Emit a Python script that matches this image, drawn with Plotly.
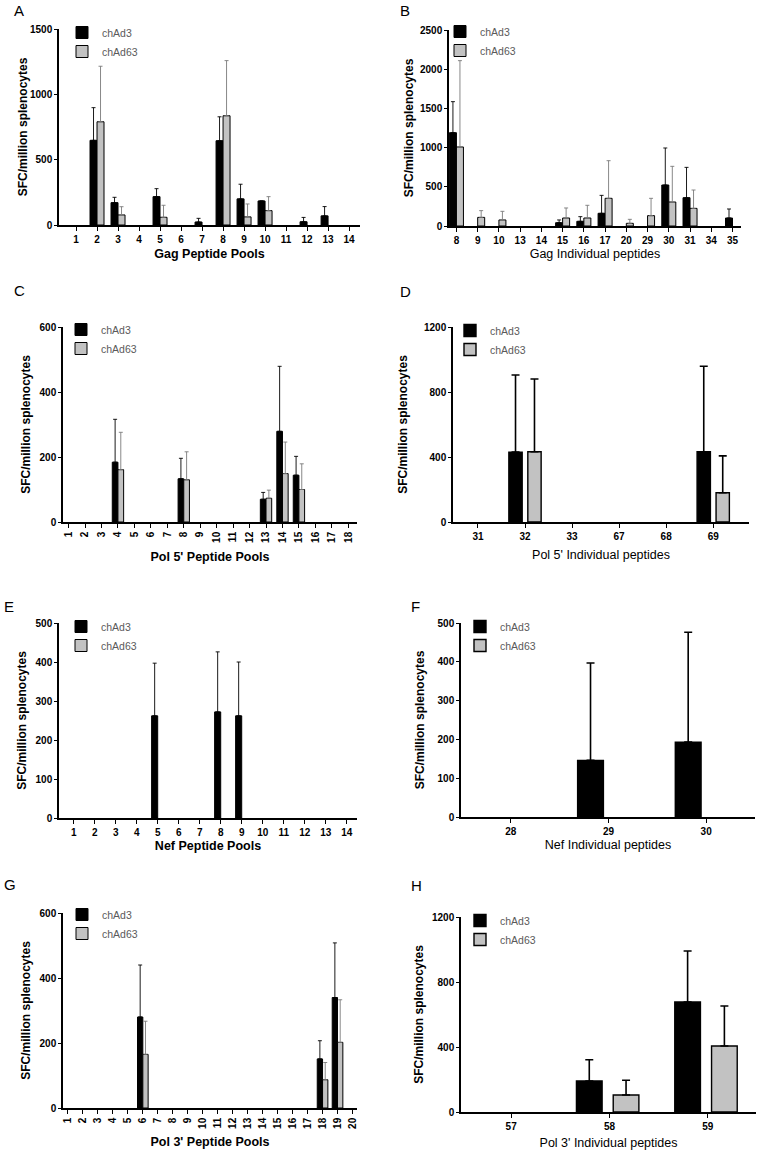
import plotly.graph_objects as go

W, H = 757, 1152
FONT = "Liberation Sans, Arial, sans-serif"

# ---------------- data ----------------
# A: Gag peptide pools
a_cats = [str(i) for i in range(1, 15)]
a_chad3 = [0, 648, 171, 0, 217, 0, 23, 645, 200, 184, 0, 25, 70, 0]
a_chad3_err = [0, 250, 41, 0, 61, 0, 28, 183, 112, 0, 0, 33, 71, 0]
a_chad63 = [0, 790, 77, 0, 59, 0, 0, 836, 62, 110, 0, 0, 0, 0]
a_chad63_err = [0, 425, 63, 0, 92, 0, 0, 422, 99, 107, 0, 0, 0, 0]

# B: Gag individual peptides
b_cats = ["8", "9", "10", "13", "14", "15", "16", "17", "20", "29", "30", "31", "34", "35"]
b_chad3 = [1190, 0, 0, 0, 0, 42, 60, 162, 0, 0, 523, 361, 0, 102]
b_chad3_err = [396, 0, 0, 0, 0, 35, 59, 229, 0, 0, 472, 387, 0, 115]
b_chad63 = [1008, 110, 77, 0, 0, 102, 102, 353, 34, 132, 306, 225, 0, 0]
b_chad63_err = [1101, 86, 110, 0, 0, 128, 162, 480, 51, 221, 455, 234, 0, 0]

# C: Pol 5' peptide pools
c_cats = [str(i) for i in range(1, 19)]
c_chad3 = [0, 0, 0, 184, 0, 0, 0, 133, 0, 0, 0, 0, 70, 279, 144, 0, 0, 0]
c_chad3_err = [0, 0, 0, 132, 0, 0, 0, 63, 0, 0, 0, 0, 21, 200, 58, 0, 0, 0]
c_chad63 = [0, 0, 0, 161, 0, 0, 0, 130, 0, 0, 0, 0, 73, 149, 100, 0, 0, 0]
c_chad63_err = [0, 0, 0, 115, 0, 0, 0, 86, 0, 0, 0, 0, 25, 97, 79, 0, 0, 0]

# D: Pol 5' individual peptides
d_cats = ["31", "32", "33", "67", "68", "69"]
d_chad3 = [0, 430, 0, 0, 0, 432]
d_chad3_err = [0, 475, 0, 0, 0, 526]
d_chad63 = [0, 432, 0, 0, 0, 180]
d_chad63_err = [0, 448, 0, 0, 0, 227]

# E: Nef peptide pools
e_cats = [str(i) for i in range(1, 15)]
e_chad3 = [0, 0, 0, 0, 262, 0, 0, 272, 262, 0, 0, 0, 0, 0]
e_chad3_err = [0, 0, 0, 0, 135, 0, 0, 154, 138, 0, 0, 0, 0, 0]
e_chad63 = [0] * 14
e_chad63_err = [0] * 14

# F: Nef individual peptides
f_cats = ["28", "29", "30"]
f_chad3 = [0, 146, 193]
f_chad3_err = [0, 251, 283]
f_chad63 = [0, 0, 0]
f_chad63_err = [0, 0, 0]

# G: Pol 3' peptide pools
g_cats = [str(i) for i in range(1, 21)]
g_chad3 = [0, 0, 0, 0, 0, 280, 0, 0, 0, 0, 0, 0, 0, 0, 0, 0, 0, 151, 340, 0]
g_chad3_err = [0, 0, 0, 0, 0, 160, 0, 0, 0, 0, 0, 0, 0, 0, 0, 0, 0, 56, 168, 0]
g_chad63 = [0, 0, 0, 0, 0, 165, 0, 0, 0, 0, 0, 0, 0, 0, 0, 0, 0, 87, 202, 0]
g_chad63_err = [0, 0, 0, 0, 0, 102, 0, 0, 0, 0, 0, 0, 0, 0, 0, 0, 0, 53, 131, 0]

# H: Pol 3' individual peptides
h_cats = ["57", "58", "59"]
h_chad3 = [0, 191, 677]
h_chad3_err = [0, 131, 314]
h_chad63 = [0, 105, 406]
h_chad63_err = [0, 90, 246]

series_names = ["chAd3", "chAd63"]
y_title = "SFC/million splenocytes"

# ---------------- per-panel geometry / style (page pixels) ----------------
panels = [
    dict(letter="A", cats=a_cats, c3=a_chad3, c3e=a_chad3_err, c63=a_chad63, c63e=a_chad63_err,
         xt="Gag Peptide Pools", x0=59, x1=360, yt=29, yb=225, ymax=1500, dt=500,
         xr=[-0.81, 13.52], ta=0, tb=True, bw=0.333, off3=-0.333, off63=0.0, heavy=False,
         xst=5, yst=0, lxy=(12, 10), legxy=(62, 18)),
    dict(letter="B", cats=b_cats, c3=b_chad3, c3e=b_chad3_err, c63=b_chad63, c63e=b_chad63_err,
         xt="Gag Individual peptides", x0=449, x1=741, yt=30, yb=226, ymax=2500, dt=500,
         xr=[-0.35, 13.4], ta=0, tb=False, bw=0.33, off3=-0.33, off63=0.0, heavy=False,
         xst=4, yst=4, lxy=(398, 10), legxy=(440, 17)),
    dict(letter="C", cats=c_cats, c3=c_chad3, c3e=c_chad3_err, c63=c_chad63, c63e=c_chad63_err,
         xt="Pol 5' Peptide Pools", x0=63, x1=357, yt=327, yb=522, ymax=600, dt=200,
         xr=[-0.34, 17.53], ta=-90, tb=True, bw=0.345, off3=-0.345, off63=0.0, heavy=False,
         xst=10, yst=6, lxy=(12, 290), legxy=(61, 315)),
    dict(letter="D", cats=d_cats, c3=d_chad3, c3e=d_chad3_err, c63=d_chad63, c63e=d_chad63_err,
         xt="Pol 5' Individual peptides", x0=453, x1=749, yt=327, yb=522, ymax=1200, dt=400,
         xr=[-0.53, 5.76], ta=0, tb=False, bw=0.283, off3=-0.343, off63=0.06, heavy=True,
         xst=9, yst=14, lxy=(398, 291), legxy=(450, 316)),
    dict(letter="E", cats=e_cats, c3=e_chad3, c3e=e_chad3_err, c63=e_chad63, c63e=e_chad63_err,
         xt="Nef Peptide Pools", x0=59, x1=357, yt=623, yb=818, ymax=500, dt=100,
         xr=[-0.70, 13.49], ta=0, tb=True, bw=0.29, off3=-0.29, off63=0.0, heavy=False,
         xst=4, yst=6, lxy=(2, 606), legxy=(61, 612)),
    dict(letter="F", cats=f_cats, c3=f_chad3, c3e=f_chad3_err, c63=f_chad63, c63e=f_chad63_err,
         xt="Nef Individual peptides", x0=461, x1=755, yt=623, yb=817, ymax=500, dt=100,
         xr=[-0.51, 2.5], ta=0, tb=False, bw=0.264, off3=-0.316, off63=0.052, heavy=True,
         xst=4, yst=10, lxy=(409, 606), legxy=(460, 612)),
    dict(letter="G", cats=g_cats, c3=g_chad3, c3e=g_chad3_err, c63=g_chad63, c63e=g_chad63_err,
         xt="Pol 3' Peptide Pools", x0=63, x1=357, yt=913, yb=1108, ymax=600, dt=200,
         xr=[-0.33, 19.3], ta=-90, tb=True, bw=0.355, off3=-0.355, off63=0.0, heavy=False,
         xst=9, yst=6, lxy=(2, 884), legxy=(62, 900)),
    dict(letter="H", cats=h_cats, c3=h_chad3, c3e=h_chad3_err, c63=h_chad63, c63e=h_chad63_err,
         xt="Pol 3' Individual peptides", x0=461, x1=756, yt=917, yb=1112, ymax=1200, dt=400,
         xr=[-0.51, 2.49], ta=0, tb=False, bw=0.261, off3=-0.336, off63=0.038, heavy=True,
         xst=7, yst=6, lxy=(409, 885), legxy=(460, 906)),
]


def px_x(v):
    return v / W


def px_y(v):
    return 1 - v / H


def nz(vals):
    return [v if v else None for v in vals]


fig = go.Figure()
layout = dict(
    width=W, height=H, margin=dict(l=0, r=0, t=0, b=0),
    paper_bgcolor="white", plot_bgcolor="white",
    font=dict(family=FONT, color="black"),
    barmode="overlay",
    annotations=[],
)

for i, p in enumerate(panels):
    n = "" if i == 0 else str(i + 1)
    xa, ya = "x" + n, "y" + n
    leg = "legend" if i == 0 else "legend" + str(i + 1)
    heavy = p["heavy"]
    ew = 1.6 if heavy else 0.9
    gray_err = "black" if heavy else "#7a7a7a"
    lw = 1.4 if heavy else 1.0
    capw = 4 if heavy else 2
    ncat = len(p["cats"])
    fig.add_trace(go.Bar(
        x=p["cats"], y=nz(p["c3"]), name=series_names[0], xaxis=xa, yaxis=ya, legend=leg,
        width=p["bw"], offset=p["off3"],
        marker=dict(color="black", line=dict(color="black", width=lw)),
        error_y=dict(type="data", symmetric=False, array=nz(p["c3e"]), arrayminus=[None] * ncat,
                     color="black", thickness=ew, width=capw),
    ))
    fig.add_trace(go.Bar(
        x=p["cats"], y=nz(p["c63"]), name=series_names[1], xaxis=xa, yaxis=ya, legend=leg,
        width=p["bw"], offset=p["off63"],
        marker=dict(color="#c2c2c2", line=dict(color="black", width=lw)),
        error_y=dict(type="data", symmetric=False, array=nz(p["c63e"]), arrayminus=[None] * ncat,
                     color=gray_err, thickness=ew, width=capw),
    ))
    layout["xaxis" + n] = dict(
        domain=[px_x(p["x0"]), px_x(p["x1"])], anchor=ya, type="category", range=p["xr"],
        showline=True, linecolor="black", linewidth=1.5, ticks="outside", ticklen=4,
        tickcolor="black", tickwidth=1.3, showgrid=False, zeroline=False,
        tickangle=p["ta"], automargin=False,
        tickfont=dict(size=10, family=FONT, weight="bold", color="black"),
        title=dict(text=p["xt"], standoff=p["xst"],
                   font=dict(size=12.5, family=FONT, color="black",
                             weight="bold" if p["tb"] else "normal")),
        fixedrange=True,
    )
    layout["yaxis" + n] = dict(
        domain=[px_y(p["yb"]), px_y(p["yt"])], anchor=xa, range=[0, p["ymax"]],
        dtick=p["dt"], tick0=0,
        showline=True, linecolor="black", linewidth=1.5, ticks="outside", ticklen=3,
        tickcolor="black", tickwidth=1.3, showgrid=False, zeroline=False, automargin=False,
        tickfont=dict(size=10, family=FONT, weight="bold", color="black"),
        title=dict(text=y_title, standoff=p["yst"],
                   font=dict(size=12, family=FONT, color="black", weight="bold")),
        fixedrange=True,
    )
    layout[leg] = dict(
        x=px_x(p["legxy"][0]), y=px_y(p["legxy"][1]), xanchor="left", yanchor="top",
        bgcolor="rgba(0,0,0,0)", borderwidth=0,
        font=dict(size=10.5, family=FONT, color="#5a5a5a"),
        tracegroupgap=0, itemclick=False,
    )
    layout["annotations"].append(dict(
        text=p["letter"], x=px_x(p["lxy"][0]), y=px_y(p["lxy"][1]), xref="paper", yref="paper",
        xanchor="left", yanchor="middle", showarrow=False,
        font=dict(size=15, family=FONT, color="black"),
    ))

fig.update_layout(**layout)
# remove the default 8px body margin so page pixels equal figure pixels
fig.write_html("out.html", config={"displayModeBar": False},
               post_script="document.body.style.margin='0';")
